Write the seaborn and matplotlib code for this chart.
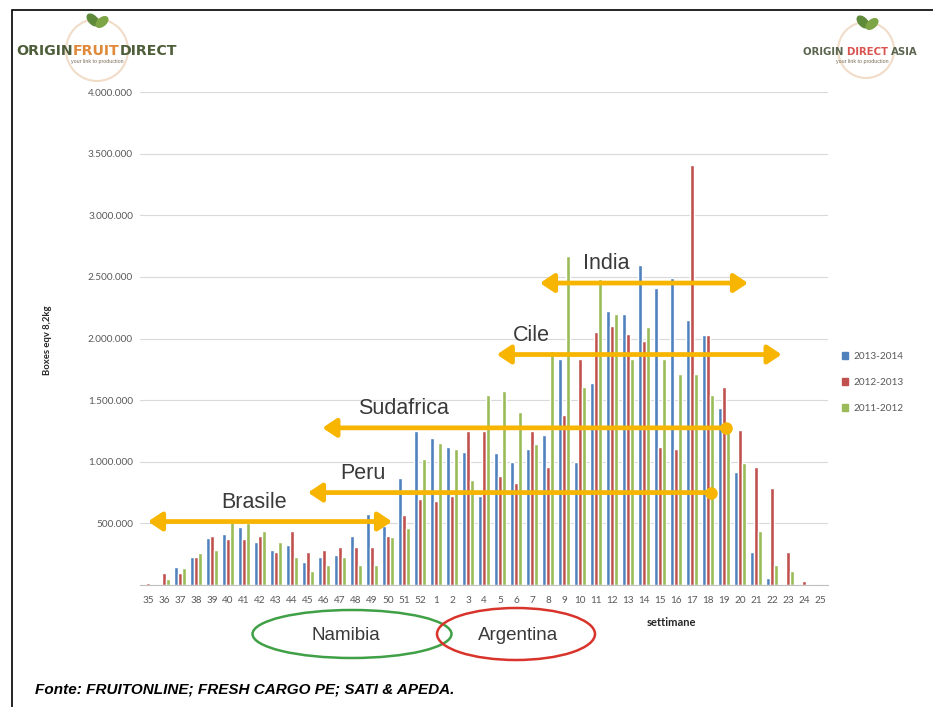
import matplotlib
matplotlib.use("Agg")
import matplotlib.pyplot as plt
from matplotlib.patches import Ellipse, Rectangle
from matplotlib.ticker import FuncFormatter, MultipleLocator
import numpy as np
import pandas as pd
import seaborn as sns

# Weeks of the season (week 35 to week 25 of the following year)
weeks = [str(w) for w in list(range(35, 53)) + list(range(1, 26))]

seasons = ["2013-2014", "2012-2013", "2011-2012"]

boxes_2013_2014 = [
    10000, 10000, 150000, 230000, 385000, 415000, 470000, 350000, 285000,
    325000, 185000, 225000, 245000, 395000, 575000, 480000, 870000, 1250000,
    1190000, 1120000, 1080000, 720000, 1070000, 1000000, 1100000, 1220000,
    1830000, 1000000, 1640000, 2220000, 2200000, 2600000, 2410000, 2490000,
    2150000, 2030000, 1440000, 920000, 270000, 55000, 0, 0, 0,
]
boxes_2012_2013 = [
    15000, 95000, 95000, 230000, 400000, 375000, 375000, 400000, 270000,
    440000, 270000, 285000, 310000, 310000, 310000, 400000, 570000, 700000,
    680000, 720000, 1250000, 1250000, 885000, 830000, 1250000, 960000,
    1380000, 1830000, 2050000, 2100000, 2040000, 1980000, 1120000, 1100000,
    3410000, 2030000, 1610000, 1260000, 960000, 790000, 265000, 30000, 0,
]
boxes_2011_2012 = [
    5000, 45000, 140000, 260000, 285000, 510000, 500000, 435000, 350000,
    230000, 115000, 165000, 225000, 165000, 160000, 390000, 460000, 1020000,
    1150000, 1100000, 855000, 1540000, 1570000, 1400000, 1140000, 1900000,
    2670000, 1610000, 2480000, 2200000, 1830000, 2090000, 1830000, 1710000,
    1710000, 1540000, 1290000, 990000, 435000, 165000, 115000, 10000, 0,
]

# Origin windows: (label, start week index, end week index, y level, label x, style)
origins = [
    ("India", 24.5, 37.5, 2450000, 27.2, "both"),
    ("Cile", 21.8, 39.6, 1870000, 22.8, "both"),
    ("Sudafrica", 10.9, 36.1, 1275000, 13.1, "dot"),
    ("Peru", 10.0, 35.2, 750000, 12.0, "dot"),
    ("Brasile", 0.0, 15.25, 515000, 4.6, "both"),
]

colors = ["#4F81BD", "#C0504D", "#9BBB59"]
arrow_color = "#F7B500"

df = pd.DataFrame({
    "week": weeks * 3,
    "season": np.repeat(seasons, len(weeks)),
    "boxes": boxes_2013_2014 + boxes_2012_2013 + boxes_2011_2012,
})

sns.set_style("white")
plt.rcParams["font.family"] = ["Liberation Sans", "DejaVu Sans"]
small_font = ["Lato", "DejaVu Sans"]

W, H = 933, 707
fig = plt.figure(figsize=(W / 100, H / 100), dpi=100)
fig.patch.set_facecolor("white")


def fx(px):
    return px / W


def fy(py):
    return 1 - py / H


ax = fig.add_axes([fx(140), fy(585), fx(828) - fx(140), fy(92) - fy(585)])

sns.barplot(
    data=df, x="week", y="boxes", hue="season", order=weeks,
    hue_order=seasons, palette=colors, width=0.8, saturation=1,
    errorbar=None, ax=ax, legend=False,
)

ax.set_ylim(0, 4000000)
ax.set_xlim(-0.5, len(weeks) - 0.5)
ax.yaxis.set_major_locator(MultipleLocator(500000))
ax.yaxis.set_major_formatter(
    FuncFormatter(lambda v, _: "" if v == 0 else f"{int(v):,}".replace(",", "."))
)
ax.grid(axis="y", color="#D9D9D9", linewidth=0.8)
ax.set_axisbelow(True)
for side in ["top", "right", "left"]:
    ax.spines[side].set_visible(False)
ax.spines["bottom"].set_color("#BFBFBF")
ax.tick_params(axis="both", length=0, labelsize=7.2, labelcolor="#595959")
ax.tick_params(axis="x", pad=8)
ax.tick_params(axis="y", pad=5)
for lbl in ax.get_xticklabels() + ax.get_yticklabels():
    lbl.set_family(small_font)
ax.set_xlabel("")
ax.set_ylabel("")

# Origin windows drawn as arrows over the bars
for name, x0, x1, yv, lx, style in origins:
    if style == "both":
        arrowstyle = "<|-|>,head_length=0.75,head_width=0.5"
    else:
        arrowstyle = "-|>,head_length=0.75,head_width=0.5"
    ax.annotate(
        "", xy=(x0, yv), xytext=(x1, yv),
        arrowprops=dict(arrowstyle=arrowstyle, color=arrow_color, lw=3.4,
                        shrinkA=0, shrinkB=0, mutation_scale=11),
        annotation_clip=False,
    )
    if style == "dot":
        ax.plot([x1], [yv], "o", color=arrow_color, markersize=8, clip_on=False)
    ax.text(lx, yv + 70000, name, fontsize=15.5, color="#3A3A3A",
            ha="left", va="bottom")

# Legend
handles = [Rectangle((0, 0), 1, 1, color=c) for c in colors]
fig.legend(handles, seasons, loc="upper left",
           bbox_to_anchor=(fx(833), fy(343)), frameon=False,
           prop={"family": small_font, "size": 7.2}, labelcolor="#595959",
           handlelength=0.6, handleheight=0.6, handletextpad=0.5,
           labelspacing=1.7)

# Axis titles
fig.text(fx(47), fy(340), "Boxes eqv 8,2kg", rotation=90, fontsize=6.8,
         fontweight="bold", color="#262626", ha="center", va="center",
         family=small_font)
fig.text(fx(671), fy(622), "settimane", fontsize=8, fontweight="bold",
         color="#262626", ha="center", va="center", family=small_font)

# Southern origins circled below the axis
fig.add_artist(Ellipse((fx(352), fy(634)), fx(199), 48 / H, fill=False,
                       edgecolor="#3FA046", linewidth=1.8,
                       transform=fig.transFigure))
fig.add_artist(Ellipse((fx(516), fy(634)), fx(158), 52 / H, fill=False,
                       edgecolor="#D9342B", linewidth=1.8,
                       transform=fig.transFigure))
fig.text(fx(346), fy(636), "Namibia", fontsize=13.5, color="#3A3A3A",
         ha="center", va="center")
fig.text(fx(518), fy(636), "Argentina", fontsize=13.5, color="#3A3A3A",
         ha="center", va="center")

# Source note
fig.text(fx(35), fy(690), "Fonte: FRUITONLINE; FRESH CARGO PE; SATI & APEDA.",
         fontsize=11, fontweight="bold", fontstyle="italic",
         family=["Liberation Sans Narrow", "Liberation Sans", "DejaVu Sans"],
         color="black", ha="left", va="center")

# Frame around the panel
fig.add_artist(Rectangle((fx(12), fy(740)), 1.2, fy(10) - fy(740),
                         fill=False, edgecolor="black", linewidth=1.2,
                         transform=fig.transFigure))


# Company marks
def word_mark(x_px, y_px, parts, size):
    renderer = fig.canvas.get_renderer()
    x = fx(x_px)
    for txt, col in parts:
        t = fig.text(x, fy(y_px), txt, fontsize=size, fontweight="bold",
                     color=col, ha="left", va="center", family="DejaVu Sans")
        bb = t.get_window_extent(renderer)
        x = x + bb.width / W


def leaf(cx, cy):
    fig.add_artist(Ellipse((fx(cx - 4), fy(cy)), fx(9), 13 / H, angle=30,
                           color="#5E8A3A", transform=fig.transFigure))
    fig.add_artist(Ellipse((fx(cx + 5), fy(cy + 2)), fx(9), 12 / H, angle=-35,
                           color="#7DA445", transform=fig.transFigure))


fig.add_artist(Ellipse((fx(97), fy(50)), fx(62), 62 / H, fill=False,
                       edgecolor="#F1DCC8", linewidth=1.5,
                       transform=fig.transFigure))
leaf(97, 20)
word_mark(16, 51, [("ORIGIN", "#4E5E3A"), ("FRUIT", "#E0893A"),
                   ("DIRECT", "#4E5E3A")], 10.2)
fig.text(fx(97), fy(61), "your link to production", fontsize=3.8,
         color="#7A6A55", ha="center", va="center")

fig.add_artist(Ellipse((fx(866), fy(50)), fx(56), 56 / H, fill=False,
                       edgecolor="#F1DCC8", linewidth=1.5,
                       transform=fig.transFigure))
leaf(867, 22)
word_mark(803, 52, [("ORIGIN ", "#5A6650"), ("DIRECT ", "#D9534F"),
                    ("ASIA", "#5A6650")], 7.3)
fig.text(fx(862), fy(61), "your link to production", fontsize=3.8,
         color="#7A6A55", ha="center", va="center")

fig.savefig("out.png", dpi=100, facecolor="white")
